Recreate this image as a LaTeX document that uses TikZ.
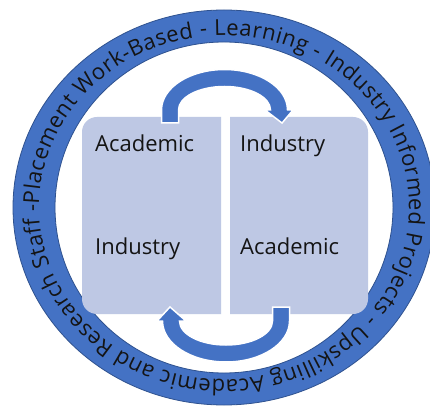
\documentclass[tikz,border=0pt]{standalone}
\usepackage{fontspec}
\setmainfont{Open Sans}
\newfontfamily\ringfont{Open Sans}
\usetikzlibrary{decorations.text}
\definecolor{ringblue}{RGB}{68,114,196}
\definecolor{ringedge}{RGB}{47,82,143}
\definecolor{boxfill}{RGB}{190,200,228}
\definecolor{txt}{RGB}{20,20,20}
\begin{document}
\begin{tikzpicture}[x=1pt,y=1pt,
  boxtext/.style={anchor=base west, font=\fontsize{22}{26}\selectfont, text=txt, inner sep=0pt},
  arrowshape/.style={fill=ringblue, draw=white, line width=1.5pt, line join=miter},
  panel/.style={fill=boxfill}]
\useasboundingbox (0,0) rectangle (430,407);
\clip (0,0) rectangle (430,407);
\fill[white] (0,0) rectangle (430,407);
% ring
\coordinate (c) at (224,199.5);
\fill[ringblue, even odd rule] (c) ellipse[x radius=211, y radius=197.5] (c) ellipse[x radius=169, y radius=165.5];
\draw[ringedge, line width=0.8pt] (c) ellipse[x radius=211, y radius=197.5];
\draw[ringedge, line width=0.8pt] (c) ellipse[x radius=169, y radius=165.5];
% ring text
\path[decorate, decoration={text along path, text align={fit to path},
  text={|\ringfont\fontsize{22}{26}\selectfont\color{txt}|Placement Work-Based - Learning - Industry Informed Projects - Upskilling Academic and Research Staff -}}]
  (c) ++(179:185 and 172) arc[start angle=179, end angle=-181, x radius=185, y radius=172];
% panels
\fill[panel] (221,93) -- (221,290) -- (97,290) arc[start angle=90, end angle=180, radius=15] -- (82,108) arc[start angle=180, end angle=270, radius=15] -- cycle;
\fill[panel] (230,93) -- (230,290) -- (353,290) arc[start angle=90, end angle=0, radius=15] -- (368,108) arc[start angle=0, end angle=-90, radius=15] -- cycle;
% texts
\node[boxtext] (a1) at (95,255) {Academic};
\node[boxtext] (i1) at (95,153) {Industry};
\node[boxtext] (i2) at (240,255) {Industry};
\node[boxtext] (a2) at (240,153) {Academic};
% top curved arrow
\filldraw[arrowshape] (161.5,284) -- (161.5,297) arc[start angle=180, end angle=0, x radius=63, y radius=40.5]
  -- (293,297) -- (282,284) -- (265,297) -- (270.5,297)
  arc[start angle=0, end angle=180, x radius=46, y radius=23.5] -- (178.5,284) -- cycle;
% bottom curved arrow
\filldraw[arrowshape] (289.5,100) -- (289.5,86) arc[start angle=0, end angle=-180, x radius=63.5, y radius=41]
  -- (157,86) -- (170,100) -- (186,86) -- (179.5,86)
  arc[start angle=180, end angle=360, x radius=46.5, y radius=24] -- (272.5,100) -- cycle;
\end{tikzpicture}
\end{document}
